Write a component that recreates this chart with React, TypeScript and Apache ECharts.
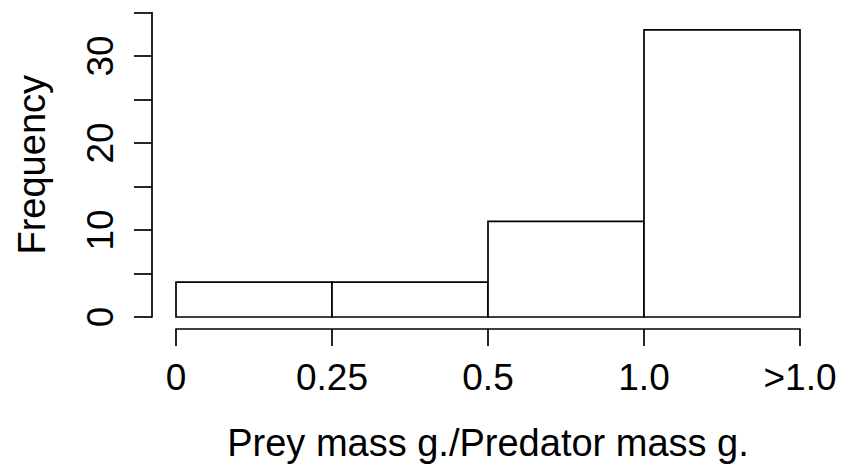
import React, { useEffect, useRef } from "react";
import * as echarts from "echarts";

const binLabels = ["0", "0.25", "0.5", "1.0", ">1.0"];
const frequencies = [4, 4, 11, 33];
const yTicks = [0, 5, 10, 15, 20, 25, 30, 35];
const yLabeled = [0, 10, 20, 30];
const xTitle = "Prey mass g./Predator mass g.";
const yTitle = "Frequency";

const FONT = "'Liberation Sans', Arial, Helvetica, sans-serif";

export default function App() {
  const ref = useRef<HTMLDivElement>(null);
  useEffect(() => {
    if (!ref.current) return;
    const chart = echarts.init(ref.current, undefined, { renderer: "svg" });
    const lineStyle = { color: "#000", width: 1.7 };
    const data = frequencies.map((f, i) => [i, i + 1, f]);
    chart.setOption({
      animation: false,
      backgroundColor: "#fff",
      grid: { left: 176, right: 48, top: 12.5, bottom: 150, containLabel: false },
      xAxis: {
        type: "value",
        min: 0,
        max: binLabels.length - 1,
        interval: 1,
        offset: 12,
        splitLine: { show: false },
        axisLine: { show: true, onZero: false, lineStyle },
        axisTick: { show: true, length: 17, lineStyle },
        axisLabel: {
          color: "#000",
          fontFamily: FONT,
          fontSize: 37,
          margin: 30,
          formatter: (v: number) => binLabels[Math.round(v)] ?? "",
        },
        name: xTitle,
        nameLocation: "middle",
        nameGap: 95,
        nameTextStyle: { color: "#000", fontFamily: FONT, fontSize: 38 },
      },
      yAxis: {
        type: "value",
        min: yTicks[0],
        max: yTicks[yTicks.length - 1],
        interval: 5,
        offset: 24,
        splitLine: { show: false },
        axisLine: { show: true, onZero: false, lineStyle },
        axisTick: { show: true, length: 18, lineStyle },
        axisLabel: {
          color: "#000",
          fontFamily: FONT,
          fontSize: 37,
          rotate: 90,
          margin: 33,
          formatter: (v: number) => (yLabeled.includes(v) ? String(v) : ""),
        },
        name: yTitle,
        nameLocation: "middle",
        nameRotate: 90,
        nameGap: 101,
        nameTextStyle: { color: "#000", fontFamily: FONT, fontSize: 38 },
      },
      series: [
        {
          type: "custom",
          data,
          encode: { x: [0, 1], y: 2 },
          renderItem: (params: any, api: any) => {
            const p0 = api.coord([api.value(0), api.value(2)]);
            const p1 = api.coord([api.value(1), 0]);
            return {
              type: "rect",
              shape: { x: p0[0], y: p0[1], width: p1[0] - p0[0], height: p1[1] - p0[1] },
              style: { fill: "#fff", stroke: "#000", lineWidth: 1.7 },
            };
          },
        },
      ],
    });
    return () => chart.dispose();
  }, []);
  return (
    <div
      ref={ref}
      style={{ position: "fixed", left: 0, top: 0, width: 848, height: 467 }}
    />
  );
}
